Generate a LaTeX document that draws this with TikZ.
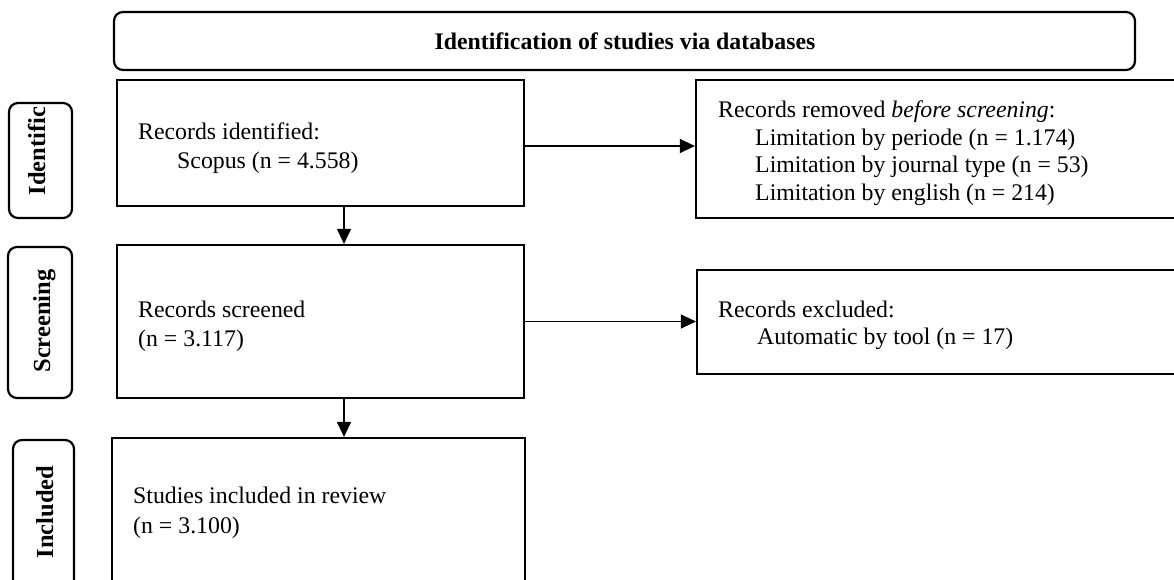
\documentclass[tikz,border=0pt]{standalone}
\usepackage{fontspec}
\setmainfont{Liberation Serif}
\usetikzlibrary{arrows.meta,fit}
\begin{document}
\begin{tikzpicture}[x=1pt,y=-1pt,
  every node/.style={font=\fontsize{23.8}{27.5}\selectfont},
  box/.style={draw,line width=2.2pt,inner sep=0pt,rectangle},
  lbox/.style={draw,line width=2.2pt,inner sep=0pt,rectangle,rounded corners=9pt},
  txt/.style={anchor=base west,inner sep=0pt},
  vlab/.style={anchor=base,rotate=90,inner sep=0pt,font=\fontsize{24.5}{27.5}\selectfont\bfseries},
  arr/.style={line width=1.2pt,-{Triangle[length=15pt,width=14pt]}}]
\useasboundingbox (0,0) rectangle (1174,579);
\clip (0,0) rectangle (1174,579);
% top header
\node[lbox,fit={(114,12) (1135,70)}] (top) {};
\node[font=\fontsize{23.8}{27.5}\selectfont\bfseries,inner sep=0pt] (title) at (625,41) {Identification of studies via databases};
% left labels
\node[lbox,fit={(9,103) (72,218)}] (lid) {};
\node[vlab] (tid) at (45,151) {Identific};
\node[lbox,fit={(8,247) (72,398)}] (lscr) {};
\node[vlab] (tscr) at (50,321) {Screening};
\node[lbox,fit={(13,440) (74,610)}] (linc) {};
\node[vlab] (tinc) at (53,512) {Included};
% main boxes
\node[box,fit={(117,80) (524,206)}] (b1) {};
\node[box,fit={(117,245) (524,398)}] (b2) {};
\node[box,fit={(112,438) (525,610)}] (b3) {};
\node[box,fit={(696,80) (1200,218)}] (r1) {};
\node[box,fit={(697,270) (1200,374)}] (r2) {};
% texts
\node[txt] (t1a) at (138,139) {Records identified:};
\node[txt] (t1b) at (177,168) {Scopus (n = 4.558)};
\node[txt] (t2a) at (138,317) {Records screened};
\node[txt] (t2b) at (138,346) {(n = 3.117)};
\node[txt] (t3a) at (133,503) {Studies included in review};
\node[txt] (t3b) at (133,533) {(n = 3.100)};
\node[txt] (r1a) at (718,117) {Records removed \textit{before screening}:};
\node[txt] (r1b) at (755,145) {Limitation by periode (n = 1.174)};
\node[txt] (r1c) at (755,172) {Limitation by journal type (n = 53)};
\node[txt] (r1d) at (755,200) {Limitation by english (n = 214)};
\node[txt] (r2a) at (718,317) {Records excluded:};
\node[txt] (r2b) at (757,344) {Automatic by tool (n = 17)};
% connectors
\coordinate (ax) at (344,0);
\coordinate (ay) at (0,146);
\draw[arr] (ax |- b1.south) -- (ax |- b2.north);
\draw[arr] (ax |- b2.south) -- (ax |- b3.north);
\draw[arr] (ay -| b1.east) -- (ay -| r1.west);
\draw[arr] (b2.east) -- (b2.east -| r2.west);
\end{tikzpicture}
\end{document}
